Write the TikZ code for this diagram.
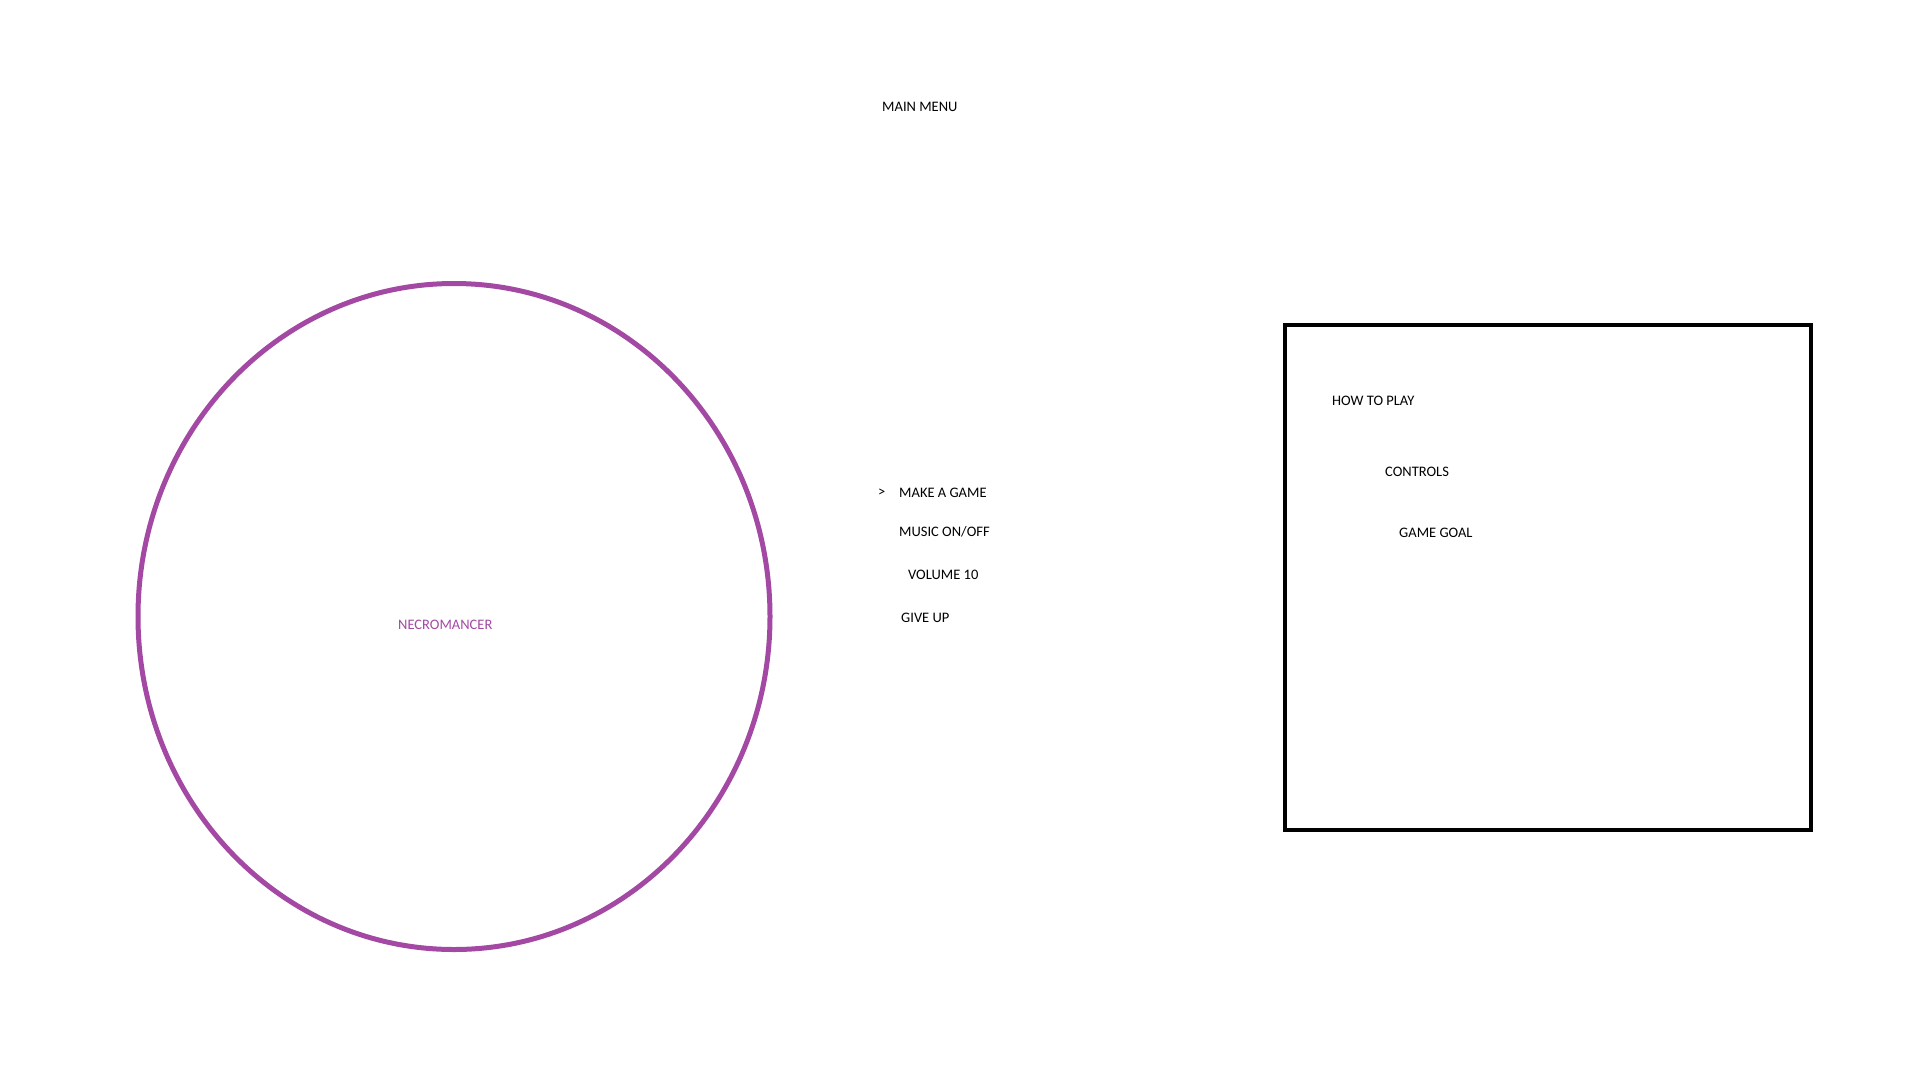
\documentclass[tikz,border=0pt]{standalone}
\usepackage{fontspec}
\setmainfont{Carlito}
\usetikzlibrary{shapes.geometric}
\definecolor{paintpurple}{RGB}{163,73,164}
\tikzset{
  lbl/.style={anchor=base west, inner sep=0pt, font=\fontsize{14.5}{16}\selectfont, text=black},
  plbl/.style={lbl, text=paintpurple},
  ring/.style={draw=paintpurple, line width=5pt, ellipse, inner sep=0pt},
  frame/.style={draw=black, line width=4.5pt}
}
\begin{document}
\begin{tikzpicture}[x=1pt, y=-1pt]
\useasboundingbox[fill=white] (0,0) rectangle (1920,1080);
\node[lbl] (title) at (882,111) {MAIN MENU};
\node[ring, minimum width=632pt, minimum height=666pt] (necro) at (454,616.5) {};
\node[plbl] (necrotext) at (398,629) {NECROMANCER};
\node[lbl] (cursor) at (878,496) {>};
\node[lbl] (make) at (899,497) {MAKE A GAME};
\node[lbl] (music) at (899,536) {MUSIC ON/OFF};
\node[lbl] (volume) at (908,579) {VOLUME 10};
\node[lbl] (giveup) at (901,622) {GIVE UP};
\coordinate (boxtl) at (1285,325);
\coordinate (boxbr) at (1811,830);
\draw[frame] (boxtl) rectangle (boxbr);
\node[lbl] (howto) at (1332,405) {HOW TO PLAY};
\node[lbl] (controls) at (1385,476) {CONTROLS};
\node[lbl] (goal) at (1399,537) {GAME GOAL};
\end{tikzpicture}
\end{document}
